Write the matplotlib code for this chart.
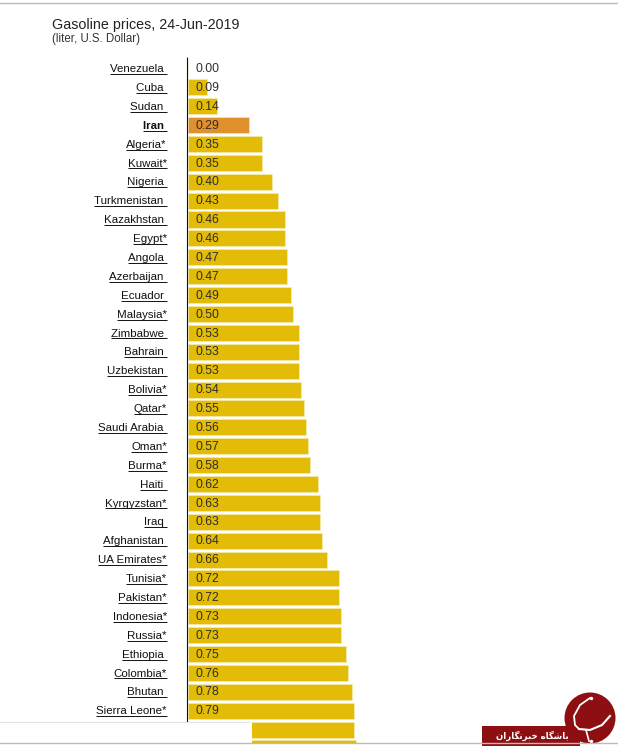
import matplotlib
matplotlib.use("Agg")
import matplotlib.pyplot as plt
from matplotlib.patches import Rectangle, Circle

plt.rcParams['font.family'] = ['Liberation Sans', 'DejaVu Sans']

countries = ["Venezuela ", "Cuba ", "Sudan ", "Iran ", "Algeria*", "Kuwait*", "Nigeria ",
             "Turkmenistan ", "Kazakhstan ", "Egypt*", "Angola ", "Azerbaijan ", "Ecuador ",
             "Malaysia*", "Zimbabwe ", "Bahrain ", "Uzbekistan ", "Bolivia*", "Qatar*",
             "Saudi Arabia ", "Oman*", "Burma*", "Haiti ", "Kyrgyzstan*", "Iraq ",
             "Afghanistan ", "UA Emirates*", "Tunisia*", "Pakistan*", "Indonesia*", "Russia*",
             "Ethiopia ", "Colombia*", "Bhutan ", "Sierra Leone*"]
prices = [0.00, 0.09, 0.14, 0.29, 0.35, 0.35, 0.40, 0.43, 0.46, 0.46, 0.47, 0.47, 0.49,
          0.50, 0.53, 0.53, 0.53, 0.54, 0.55, 0.56, 0.57, 0.58, 0.62, 0.63, 0.63, 0.64,
          0.66, 0.72, 0.72, 0.73, 0.73, 0.75, 0.76, 0.78, 0.79]
# rows cut off by the bottom of the screenshot
hidden_prices = [0.79, 0.80]
highlight = "Iran "

W, H = 618, 746
fig = plt.figure(figsize=(W / 100, H / 100), dpi=100, facecolor="white")

# page overlay in pixels, for things that are not part of the chart
page = fig.add_axes([0, 0, 1, 1], zorder=3)
page.set_xlim(0, W)
page.set_ylim(H, 0)
page.axis("off")

# chart axes: x in dollars, y in rows
row_h = 18.89
y0 = 68.4
ax = fig.add_axes([188 / W, 0, 430 / W, 1], zorder=1)
ax.set_xlim(0, 430 / 210)
ax.set_ylim((H - y0) / row_h, -y0 / row_h)
ax.axis("off")

all_prices = prices + hidden_prices
colors = ["#e0902c" if i < len(countries) and countries[i] == highlight else "#e2bc06"
          for i in range(len(all_prices))]
ax.barh(range(len(all_prices)), all_prices, height=0.85, color=colors,
        edgecolor="#f7efb8", linewidth=0.4)
ax.plot([-0.003, -0.003], [-0.6, 35], color="#111111", lw=0.8, clip_on=False,
        solid_capstyle="butt")

for i, (name, val) in enumerate(zip(countries, prices)):
    ax.annotate(f"{val:.2f}", (0, i), xytext=(5.2, -0.5), textcoords="offset points",
                ha="left", va="center", fontsize=8.8, color="#2e2e2e")
    ax.annotate(name, (0, i), xytext=(-15.2, -0.5), textcoords="offset points",
                ha="right", va="center", fontsize=8.25, color="#111111",
                fontweight="bold" if name == highlight else "normal")

page.text(52, 24.5, "Gasoline prices, 24-Jun-2019", fontsize=10.3, color="#222222",
          va="center")
page.text(52, 39, "(liter, U.S. Dollar)", fontsize=8.3, color="#333333", va="center")

# underline the country links
fig.canvas.draw()
rend = fig.canvas.get_renderer()
for i, t in enumerate(t for t in ax.texts if t.get_text() in countries):
    bb = t.get_window_extent(rend)
    yy = y0 + i * row_h + 5.6
    page.plot([bb.x0, 167], [yy, yy], color="#111111", lw=0.7, solid_capstyle="butt")

# page furniture
page.add_patch(Rectangle((0, 721.5), 252, H - 721.5, fc="white", ec="none"))
page.add_patch(Rectangle((0, 743), W, 3, fc="white", ec="none"))
page.plot([0, W], [2.5, 2.5], color="#bbbbbb", lw=1)
page.plot([0, W], [743, 743], color="#bbbbbb", lw=1)
page.plot([0, 250], [721.5, 721.5], color="#e2e2e2", lw=0.8)

# watermark
page.add_patch(Circle((590, 718), 25.5, fc="#8e0f12", ec="none"))
page.add_patch(Rectangle((482, 726), 98, 20, fc="#8e0f12", ec="none"))
page.plot([590, 580, 574, 575, 579], [698, 705, 716, 725, 729], color="white", lw=1.3)
page.plot([579, 590, 602, 610], [729, 730, 725, 716], color="white", lw=1.5)
page.plot([586, 589], [730, 741], color="white", lw=1.2)
page.scatter([591, 591], [698, 741], s=6, color="white", linewidths=0)
site = "\ufe91\ufe8e\ufeb7\ufb95\ufe8e\ufee9 \ufea7\ufe92\ufeae\ufee7\ufb95\ufe8e\ufead\ufe8d\ufee5"
page.text(532, 735.5, site[::-1], fontsize=6.2, color="white", ha="center", va="center",
          fontweight="bold", family="DejaVu Sans")

fig.savefig("out.png", dpi=100)
